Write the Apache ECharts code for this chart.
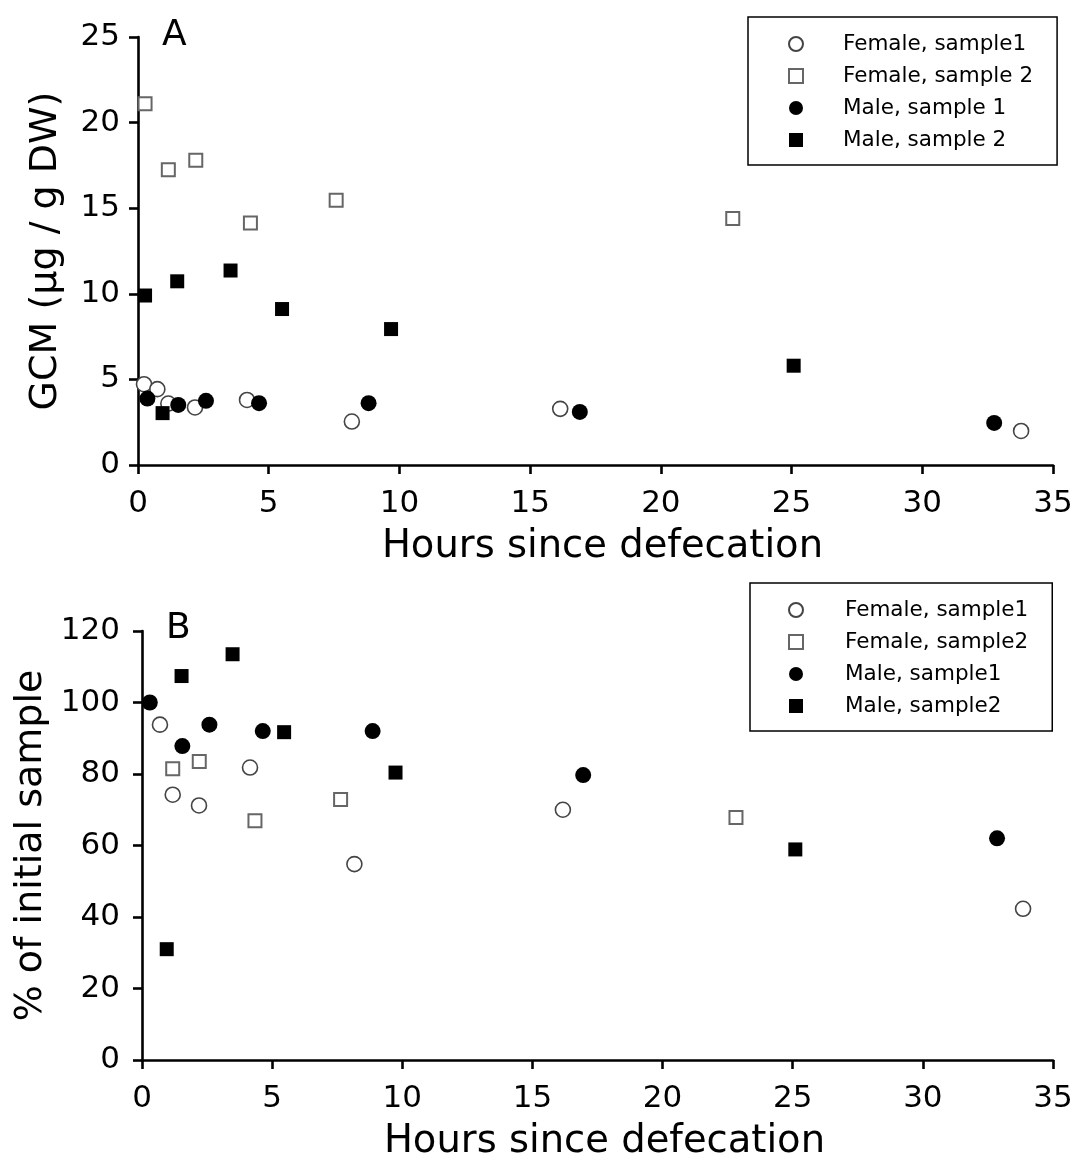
<!DOCTYPE html>
<html>
<head>
<meta charset="utf-8">
<script src="https://cdn.jsdelivr.net/npm/echarts@6/dist/echarts.min.js"></script>
<style>
html,body{margin:0;padding:0;background:#fff;}
#chart{width:1078px;height:1162px;}
</style>
</head>
<body>
<div id="chart"></div>
<script>
// ---- Panel A: GCM (µg / g DW) vs hours ----
const hoursA_F1 = [0.23, 0.74, 1.16, 2.18, 4.17, 8.18, 16.15, 33.78];
const gcmA_F1   = [4.72, 4.43, 3.59, 3.36, 3.80, 2.54, 3.28, 1.99];
const hoursA_F2 = [0.27, 1.16, 2.21, 4.30, 7.58, 22.75];
const gcmA_F2   = [21.1, 17.25, 17.8, 14.13, 15.46, 14.4];
const hoursA_M1 = [0.36, 1.54, 2.60, 4.63, 8.82, 16.90, 32.75];
const gcmA_M1   = [3.88, 3.51, 3.75, 3.61, 3.61, 3.10, 2.46];
const hoursA_M2 = [0.27, 0.94, 1.50, 3.54, 5.51, 9.68, 25.08];
const gcmA_M2   = [9.9, 3.03, 10.73, 11.36, 9.11, 7.94, 5.8];

// ---- Panel B: % of initial sample vs hours ----
const hoursB_F1 = [0.69, 1.18, 2.19, 4.15, 8.16, 16.17, 33.85];
const pctB_F1   = [93.8, 74.2, 71.2, 81.8, 54.8, 70.0, 42.3];
const hoursB_F2 = [1.18, 2.20, 4.34, 7.63, 22.82];
const pctB_F2   = [81.5, 83.5, 66.9, 72.9, 67.8];
const hoursB_M1 = [0.30, 1.55, 2.59, 4.64, 8.86, 16.95, 32.85];
const pctB_M1   = [100, 87.8, 93.8, 92.0, 92.0, 79.7, 62.0];
const hoursB_M2 = [0.95, 1.52, 3.48, 5.46, 9.74, 25.10];
const pctB_M2   = [31.0, 107.4, 113.5, 91.7, 80.4, 58.9];

const namesA = ['Female, sample1', 'Female, sample 2', 'Male, sample 1', 'Male, sample 2'];
const namesB = ['Female, sample1', 'Female, sample2', 'Male, sample1', 'Male, sample2'];

const xTicks = [0, 5, 10, 15, 20, 25, 30, 35];
const yTicksA = [0, 5, 10, 15, 20, 25];
const yTicksB = [0, 20, 40, 60, 80, 100, 120];

const FONT = 'DejaVu Sans';

function pairs(xs, ys) { return xs.map((x, i) => [x, ys[i]]); }

const styles = [
  { symbol: 'circle', symbolSize: 15, itemStyle: { color: '#fff', borderColor: '#444', borderWidth: 1.6, opacity: 1 } },
  { symbol: 'rect', symbolSize: 13, itemStyle: { color: '#fff', borderColor: '#666', borderWidth: 2, opacity: 1 } },
  { symbol: 'circle', symbolSize: 16, itemStyle: { color: '#000', borderColor: '#000', borderWidth: 0, opacity: 1 } },
  { symbol: 'rect', symbolSize: 14, itemStyle: { color: '#000', borderColor: '#000', borderWidth: 0, opacity: 1 } }
];

const dataA = [pairs(hoursA_F1, gcmA_F1), pairs(hoursA_F2, gcmA_F2), pairs(hoursA_M1, gcmA_M1), pairs(hoursA_M2, gcmA_M2)];
const dataB = [pairs(hoursB_F1, pctB_F1), pairs(hoursB_F2, pctB_F2), pairs(hoursB_M1, pctB_M1), pairs(hoursB_M2, pctB_M2)];

const series = [];
dataA.forEach((d, i) => series.push(Object.assign({ type: 'scatter', name: namesA[i], xAxisIndex: 0, yAxisIndex: 0, data: d, z: 2 + i }, styles[i])));
dataB.forEach((d, i) => series.push(Object.assign({ type: 'scatter', name: namesB[i], xAxisIndex: 1, yAxisIndex: 1, data: d, z: 2 + i }, styles[i])));

function xAxis(gridIndex, ticks) {
  return {
    type: 'value', gridIndex: gridIndex, min: ticks[0], max: ticks[ticks.length - 1], interval: ticks[1] - ticks[0],
    name: 'Hours since defecation', nameLocation: 'middle', nameGap: 62,
    nameTextStyle: { fontSize: 38.5, color: '#000', fontFamily: FONT, padding: [0, 0, 0, 14] },
    axisLine: { show: true, onZero: false, lineStyle: { color: '#000', width: 2.6 } },
    axisTick: { show: true, inside: false, length: 9, lineStyle: { color: '#000', width: 2.6 } },
    axisLabel: { fontSize: 31, color: '#000', margin: 23, fontFamily: FONT },
    splitLine: { show: false }
  };
}
function yAxis(gridIndex, ticks, name, gap, margin) {
  return {
    type: 'value', gridIndex: gridIndex, min: ticks[0], max: ticks[ticks.length - 1], interval: ticks[1] - ticks[0],
    name: name, nameLocation: 'middle', nameGap: gap, nameRotate: 90,
    nameTextStyle: { fontSize: 38, color: '#000', fontFamily: FONT },
    axisLine: { show: true, onZero: false, lineStyle: { color: '#000', width: 2.6 } },
    axisTick: { show: true, inside: false, length: 9, lineStyle: { color: '#000', width: 2.6 } },
    axisLabel: { fontSize: 31, color: '#000', margin: margin, fontFamily: FONT },
    splitLine: { show: false }
  };
}

function legend(names, left, top, padLeft, textPad, padRight) {
  return {
    data: names, orient: 'vertical', left: left, top: top,
    itemWidth: 14, itemHeight: 14, itemGap: 10,
    padding: [16, padRight, 14, padLeft], borderColor: '#000', borderWidth: 1.5, backgroundColor: '#fff',
    textStyle: { fontSize: 21.5, lineHeight: 21, color: '#000', fontFamily: FONT, padding: [0, 0, 0, textPad] },
    selectedMode: false
  };
}

const chart = echarts.init(document.getElementById('chart'), null, { renderer: 'canvas' });
chart.setOption({
  backgroundColor: '#fff',
  animation: false,
  textStyle: { fontFamily: FONT },
  title: [
    { text: 'A', left: 157, top: 13, textStyle: { fontSize: 36, fontWeight: 'normal', color: '#000', fontFamily: FONT } },
    { text: 'B', left: 161, top: 606, textStyle: { fontSize: 36, fontWeight: 'normal', color: '#000', fontFamily: FONT } }
  ],
  grid: [
    { left: 138, right: 25, top: 37, bottom: 697, containLabel: false },
    { left: 142, right: 25, top: 631, bottom: 97, containLabel: false }
  ],
  xAxis: [xAxis(0, xTicks), xAxis(1, xTicks)],
  yAxis: [yAxis(0, yTicksA, 'GCM (µg / g DW)', 73, 18), yAxis(1, yTicksB, '% of initial sample', 91, 22)],
  legend: [
    legend(namesA, 748, 17, 40, 35, 24),
    legend(namesB, 750, 583, 38, 37, 24)
  ],
  series: series
});
</script>
</body>
</html>
